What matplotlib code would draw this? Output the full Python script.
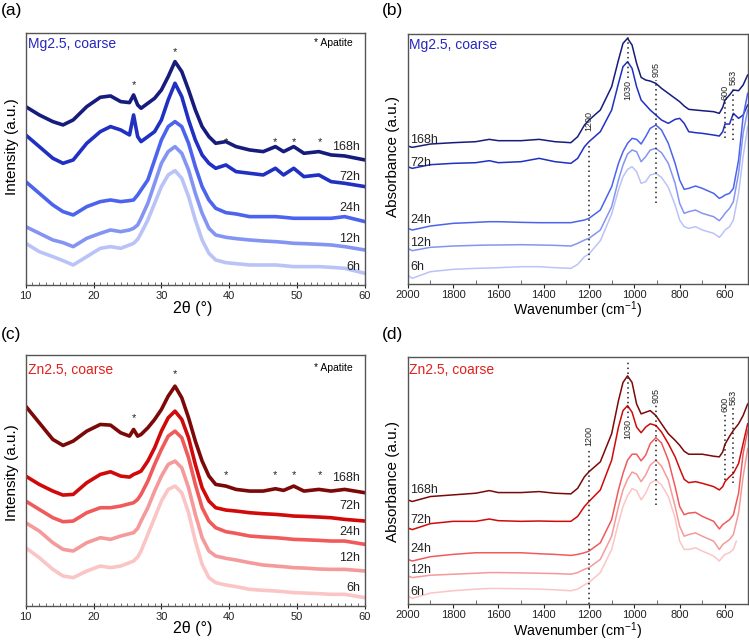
import numpy as np
import matplotlib
matplotlib.use('Agg')
import matplotlib.pyplot as plt
from matplotlib.ticker import MultipleLocator

plt.rcParams['font.family'] = ['Liberation Sans', 'DejaVu Sans']
plt.rcParams['mathtext.fontset'] = 'custom'
plt.rcParams['mathtext.rm'] = 'Liberation Sans'
plt.rcParams['mathtext.it'] = 'Liberation Sans:italic'

hours = ['168h', '72h', '24h', '12h', '6h']

# ---------------- XRD (a.u., stacked as in the figure) ----------------
two_theta = [10, 12, 14, 15.5, 17, 19, 21, 22.5, 24, 25.3, 25.9, 26.5, 27, 28, 29, 30, 31, 32,
             33, 34, 35, 36, 37, 38, 39.5, 41, 43, 45, 46.8, 48, 49.5, 51, 53.2, 55, 57, 60]

mg_xrd_168h = [535, 510, 490, 480, 495, 535, 563, 567, 550, 547, 570, 540, 530, 545, 560, 585, 625, 670,
               640, 585, 525, 475, 445, 425, 430, 415, 405, 400, 415, 400, 415, 395, 400, 390, 387, 375]
mg_xrd_72h = [450, 415, 380, 365, 375, 425, 460, 475, 465, 450, 510, 445, 430, 445, 460, 495, 555, 605,
              565, 495, 435, 390, 365, 350, 360, 340, 335, 330, 350, 330, 350, 325, 330, 310, 305, 295]
mg_xrd_24h = [310, 275, 240, 220, 210, 235, 250, 255, 250, 253, 255, 270, 285, 315, 375, 435, 475, 490,
              475, 425, 355, 295, 255, 230, 217, 213, 205, 205, 205, 203, 200, 200, 200, 200, 205, 190]
mg_xrd_12h = [175, 155, 135, 127, 115, 140, 155, 165, 160, 165, 170, 180, 200, 245, 305, 365, 400, 415,
              395, 345, 275, 215, 170, 150, 143, 139, 135, 132, 130, 128, 125, 124, 122, 120, 115, 105]
mg_xrd_6h = [125, 100, 85, 73, 60, 85, 110, 115, 110, 120, 125, 137, 155, 195, 245, 295, 330, 343,
             320, 265, 195, 135, 95, 75, 67, 64, 60, 60, 60, 58, 55, 55, 55, 53, 50, 35]

zn_xrd_168h = [600, 550, 500, 482, 495, 525, 545, 543, 520, 510, 530, 510, 515, 535, 560, 590, 630, 660,
               625, 565, 495, 435, 390, 365, 360, 350, 345, 345, 352, 347, 360, 345, 350, 345, 350, 340]
zn_xrd_72h = [390, 365, 345, 333, 335, 370, 395, 403, 390, 387, 395, 400, 405, 435, 475, 525, 565, 585,
              560, 505, 425, 355, 315, 295, 288, 285, 280, 277, 275, 273, 270, 269, 267, 265, 260, 255]
zn_xrd_24h = [315, 290, 265, 253, 255, 280, 295, 295, 300, 307, 310, 320, 335, 375, 425, 470, 510, 525,
              505, 445, 365, 295, 255, 235, 223, 218, 210, 207, 205, 203, 200, 199, 197, 195, 195, 185]
zn_xrd_12h = [250, 225, 190, 170, 165, 190, 205, 200, 210, 217, 220, 233, 255, 295, 345, 390, 425, 435,
              415, 355, 275, 205, 165, 150, 143, 138, 130, 123, 120, 118, 115, 114, 111, 110, 110, 105]
zn_xrd_6h = [175, 145, 110, 90, 85, 105, 120, 115, 120, 130, 135, 147, 165, 215, 265, 315, 350, 360,
             340, 280, 195, 125, 85, 70, 63, 58, 50, 47, 45, 43, 40, 39, 37, 35, 35, 25]

mg_xrd_label_y = [415, 325, 230, 137, 55]
zn_xrd_label_y = [385, 300, 223, 143, 55]
apatite_2theta = [32, 25.9, 39.5, 46.8, 49.5, 53.3]
mg_apatite_y = [698, 600, 430, 430, 430, 430]
zn_apatite_y = [695, 565, 393, 393, 393, 393]

# ---------------- FTIR (a.u., stacked as in the figure) ----------------
wavenumber = [2000, 1980, 1900, 1800, 1700, 1640, 1600, 1500, 1420, 1350, 1280, 1250, 1220, 1200,
              1150, 1100, 1070, 1050, 1030, 1010, 990, 970, 950, 930, 905, 880, 850, 820, 800, 780,
              760, 730, 700, 650, 625, 610, 600, 580, 563, 540, 520, 500]

mg_ftir_168h = [414, 410, 420, 424, 427, 434, 430, 430, 434, 427, 424, 442, 477, 492, 522, 592, 672, 722,
                737, 717, 662, 620, 612, 609, 602, 587, 572, 557, 547, 534, 524, 522, 520, 517, 512, 530,
                552, 567, 582, 580, 597, 627]
mg_ftir_72h = [352, 347, 358, 362, 364, 370, 364, 367, 377, 367, 362, 377, 412, 427, 457, 522, 602, 652,
               667, 647, 592, 552, 537, 522, 507, 492, 482, 494, 497, 482, 457, 454, 452, 447, 444, 457,
               480, 480, 512, 497, 507, 537]
mg_ftir_24h = [167, 162, 174, 182, 185, 187, 187, 185, 184, 184, 184, 188, 192, 197, 222, 292, 362, 397,
               422, 437, 434, 420, 442, 467, 477, 462, 422, 362, 312, 284, 287, 294, 287, 272, 257, 262,
               267, 272, 287, 372, 502, 572]
mg_ftir_12h = [107, 100, 110, 114, 116, 117, 117, 118, 117, 116, 114, 122, 132, 137, 162, 232, 312, 357,
               390, 402, 397, 367, 382, 402, 407, 394, 362, 302, 242, 212, 217, 222, 212, 202, 190, 202,
               212, 227, 247, 332, 452, 522]
mg_ftir_6h = [27, 17, 37, 44, 47, 48, 49, 52, 52, 49, 47, 59, 82, 90, 130, 210, 282, 322,
              344, 352, 337, 302, 307, 327, 332, 320, 290, 237, 192, 172, 167, 172, 162, 152, 140, 152,
              162, 172, 192, 272, 382, 472]

zn_ftir_168h = [315, 310, 325, 330, 335, 343, 337, 337, 340, 335, 333, 350, 385, 400, 430, 515, 615, 670,
                690, 670, 605, 575, 580, 585, 570, 545, 515, 495, 480, 462, 453, 453, 453, 447, 445, 460,
                483, 507, 525, 545, 570, 605]
zn_ftir_72h = [230, 225, 243, 250, 250, 257, 252, 250, 251, 250, 250, 265, 295, 310, 345, 435, 535, 585,
               600, 580, 535, 518, 535, 545, 540, 520, 485, 445, 410, 377, 367, 370, 365, 355, 345, 355,
               370, 385, 395, 425, 485, 545]
zn_ftir_24h = [135, 130, 143, 150, 155, 155, 155, 155, 152, 150, 147, 150, 155, 160, 185, 255, 345, 395,
               435, 453, 453, 433, 450, 485, 503, 487, 435, 355, 295, 270, 275, 277, 265, 250, 227, 240,
               245, 255, 270, 335, 455, 525]
zn_ftir_12h = [85, 80, 87, 90, 93, 95, 95, 94, 93, 92, 90, 95, 105, 110, 135, 205, 295, 345,
               377, 399, 393, 370, 390, 420, 435, 417, 375, 295, 235, 205, 210, 215, 205, 190, 165, 180,
               185, 195, 210, 275, 385, 470]
zn_wavenumber_6h = [2000, 1980, 1900, 1800, 1700, 1640, 1600, 1500, 1420, 1350, 1280, 1250, 1220, 1200,
                    1150, 1100, 1070, 1050, 1030, 1010, 990, 970, 950, 930, 905, 880, 850, 820, 800, 780,
                    760, 730, 700, 650, 625, 610, 600, 580, 563, 550]
zn_ftir_6h = [25, 17, 33, 40, 45, 47, 47, 46, 45, 43, 40, 45, 58, 65, 95, 165, 245, 295,
              327, 349, 343, 315, 335, 365, 375, 360, 325, 260, 190, 165, 165, 170, 160, 145, 130, 143,
              150, 155, 165, 190]

mg_ftir_label_y = [432, 362, 192, 124, 52]
zn_ftir_label_y = [345, 255, 165, 103, 35]

# marker lines: wavenumber, label centre, dotted line top, dotted line bottom
band_pos = [1200, 1030, 905, 600, 563]
mg_band_label = [490, 582, 645, 575, 620]
mg_band_top = [422, 747, 612, 547, 592]
mg_band_bot = [72, 618, 242, 437, 432]
zn_band_label = [507, 528, 631, 603, 626]
zn_band_top = [470, 733, 603, 573, 594]
zn_band_bot = [0, 562, 300, 375, 365]

mg_colors = ['#161c7e', '#1f30c2', '#4c63ee', '#8494f3', '#bac3f7']
zn_colors = ['#7c0808', '#d00a0a', '#f05a5a', '#f59a9a', '#fbc5c5']


def style_frame(ax):
    for s in ax.spines.values():
        s.set_color('#555555')
        s.set_linewidth(1.0)
    ax.set_yticks([])
    ax.tick_params(axis='x', labelsize=8, colors='#222222', pad=2.5)


def xrd_panel(ax, curves, colors, label_y, ast_y, title, title_color):
    for y, c in zip(curves, colors):
        ax.plot(two_theta, y, color=c, lw=2.6, solid_joinstyle='round')
    for h, ly in zip(hours, label_y):
        ax.text(59.3, ly, h, fontsize=9, ha='right', va='center', color='#222222')
    for xa, ya in zip(apatite_2theta, ast_y):
        ax.text(xa, ya, '*', fontsize=8, ha='center', va='center', color='#222222')
    ax.text(0.965, 0.963 if title.startswith('Mg') else 0.948, '* Apatite', transform=ax.transAxes,
            fontsize=7.5, ha='right', va='center')
    ax.text(0.008, 0.957 if title.startswith('Mg') else 0.937, title, transform=ax.transAxes,
            fontsize=10, color=title_color, ha='left', va='center')
    ax.set_xlim(10, 60)
    ax.set_ylim(0, 755)
    ax.xaxis.set_major_locator(MultipleLocator(10))
    ax.xaxis.set_minor_locator(MultipleLocator(1))
    ax.tick_params(axis='x', which='major', direction='inout', length=4, width=0.8, color='#555555')
    ax.tick_params(axis='x', which='minor', direction='in', length=2.5, width=0.6, color='#555555')
    style_frame(ax)


def ftir_panel(ax, curves, colors, label_y, band_label, band_top, band_bot, ytop, title, title_color,
               ty):
    for (x, y), c in zip(curves, colors):
        ax.plot(x, y, color=c, lw=1.1)
    for h, ly in zip(hours, label_y):
        ax.text(1990, ly, h, fontsize=9, ha='left', va='center', color='#222222')
    for wn, lab, t, b in zip(band_pos, band_label, band_top, band_bot):
        ax.plot([wn, wn], [b, t], color='#222222', lw=1.1, ls=(0, (1, 2.2)))
        ax.text(wn, lab, str(wn), rotation=90, fontsize=6.5, ha='center', va='center',
                color='#222222')
    ax.text(0.005, ty, title, transform=ax.transAxes, fontsize=10, color=title_color,
            ha='left', va='center')
    ax.set_xlim(2000, 500)
    ax.set_ylim(0, ytop)
    ax.xaxis.set_major_locator(MultipleLocator(200))
    ax.xaxis.set_minor_locator(MultipleLocator(100))
    ax.tick_params(axis='x', which='major', direction='out', length=3, width=0.8, color='#555555')
    ax.tick_params(axis='x', which='minor', direction='in', length=3, width=0.6, color='#555555')
    style_frame(ax)
    ax.tick_params(axis='x', pad=1.5)


fig = plt.figure(figsize=(7.49, 6.42), dpi=100)

ax_a = fig.add_axes([0.0343, 0.5561, 0.4530, 0.3921])
ax_b = fig.add_axes([0.5443, 0.5576, 0.4539, 0.3894])
ax_c = fig.add_axes([0.0343, 0.0561, 0.4530, 0.3917])
ax_d = fig.add_axes([0.5443, 0.0592, 0.4539, 0.3847])

xrd_panel(ax_a, [mg_xrd_168h, mg_xrd_72h, mg_xrd_24h, mg_xrd_12h, mg_xrd_6h], mg_colors,
          mg_xrd_label_y, mg_apatite_y, 'Mg2.5, coarse', '#2626c0')
xrd_panel(ax_c, [zn_xrd_168h, zn_xrd_72h, zn_xrd_24h, zn_xrd_12h, zn_xrd_6h], zn_colors,
          zn_xrd_label_y, zn_apatite_y, 'Zn2.5, coarse', '#e0201c')

ftir_panel(ax_b, [(wavenumber, mg_ftir_168h), (wavenumber, mg_ftir_72h), (wavenumber, mg_ftir_24h),
                  (wavenumber, mg_ftir_12h), (wavenumber, mg_ftir_6h)], mg_colors,
           mg_ftir_label_y, mg_band_label, mg_band_top, mg_band_bot, 750, 'Mg2.5, coarse', '#2626c0',
           0.956)
ftir_panel(ax_d, [(wavenumber, zn_ftir_168h), (wavenumber, zn_ftir_72h), (wavenumber, zn_ftir_24h),
                  (wavenumber, zn_ftir_12h), (zn_wavenumber_6h, zn_ftir_6h)], zn_colors,
           zn_ftir_label_y, zn_band_label, zn_band_top, zn_band_bot, 747, 'Zn2.5, coarse', '#e0201c',
           0.947)

# axis titles and panel letters (figure pixels -> fractions)
W, H = 749.0, 642.0
for yy in (308, 629):
    fig.text(193 / W, 1 - yy / H, '2θ (°)', fontsize=11.5, ha='center', va='center')
for yy in (310, 631):
    fig.text(578 / W, 1 - yy / H, 'Wavenumber (cm$^{-1}$)', fontsize=10.2, ha='center', va='center')
for yy in (146.7, 472.7):
    fig.text(11.7 / W, 1 - yy / H, 'Intensity (a.u.)', fontsize=11, rotation=90,
             ha='center', va='center')
for yy in (156.7, 481):
    fig.text(393.3 / W, 1 - yy / H, 'Absorbance (a.u.)', fontsize=11, rotation=90,
             ha='center', va='center')
for lab, x, y in [('(a)', 1, 10.5), ('(b)', 381.5, 10.5), ('(c)', 1, 335), ('(d)', 381.5, 335)]:
    fig.text(x / W, 1 - y / H, lab, fontsize=12.5, ha='left', va='center')

fig.savefig('out.png', dpi=100)
